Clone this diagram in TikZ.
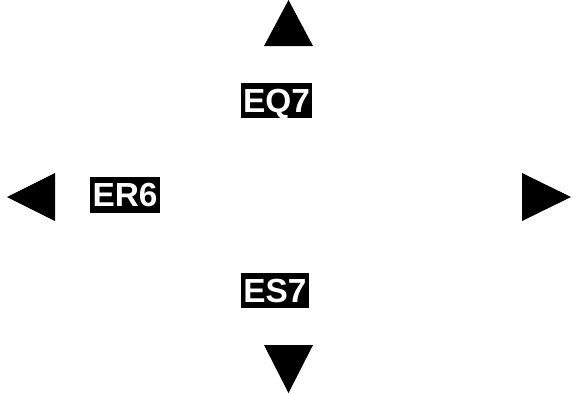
\documentclass[tikz,border=0pt]{standalone}
\usepackage{fontspec}
\setmainfont{Liberation Sans}
\begin{document}
\begin{tikzpicture}[x=0.02cm,y=-0.02cm,
	lab/.style={fill=black,text=white,font=\bfseries\fontsize{19}{22}\selectfont,inner xsep=1.2pt,inner ysep=3.3pt,text height=13.6pt,text depth=0pt}]
		\useasboundingbox (0,0) rectangle (573,393);
		\fill (264,46)--(313,46)--(288.5,0)--cycle;\fill (264,345)--(313,345)--(288.5,393)--cycle;
		\fill (55,173)--(55,221)--(7,197)--cycle;\fill (522,173)--(522,221)--(571,197)--cycle;
		\node[lab] (eq) at (276.5,100.5) {EQ7};\node[lab] (er) at (125,195) {ER6};\node[lab] (es) at (275,290.5) {ES7};
	\end{tikzpicture}
\end{document}
